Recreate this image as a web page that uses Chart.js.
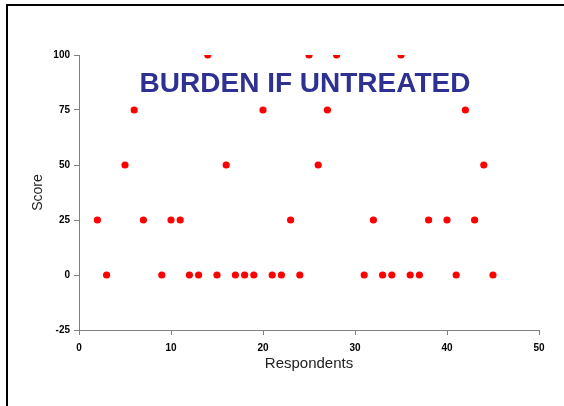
<!DOCTYPE html>
<html>
<head>
<meta charset="utf-8">
<script src="https://cdn.jsdelivr.net/npm/chart.js@4"></script>
<style>
  html, body { margin: 0; padding: 0; background: #fff; }
  #wrap { width: 564px; height: 406px; position: relative; }
</style>
</head>
<body>
<div id="wrap"><canvas id="c" width="564" height="406"></canvas></div>
<script>
const chartTitle = "BURDEN IF UNTREATED";
const xAxisLabel = "Respondents";
const yAxisLabel = "Score";
const respondents = [2, 3, 5, 6, 7, 9, 10, 11, 12, 13, 14, 15, 16, 17, 18, 19, 20, 21, 22, 23, 24, 25, 26, 27, 28, 31, 32, 33, 34, 35, 36, 37, 38, 40, 41, 42, 43, 44, 45];
const scores =      [25, 0, 50, 75, 25, 0, 25, 25, 0, 0, 100, 0, 50, 0, 0, 0, 75, 0, 0, 25, 0, 100, 50, 75, 100, 0, 25, 0, 0, 100, 0, 0, 25, 25, 0, 75, 25, 50, 0];
const xTicks = [0, 10, 20, 30, 40, 50];
const yTicks = [-25, 0, 25, 50, 75, 100];

const points = respondents.map((r, i) => ({ x: r, y: scores[i] }));

const framePlugin = {
  id: 'frame',
  beforeDraw(chart) {
    const ctx = chart.ctx;
    ctx.save();
    ctx.fillStyle = '#fff';
    ctx.fillRect(0, 0, chart.width, chart.height);
    ctx.strokeStyle = '#000';
    ctx.lineWidth = 2;
    ctx.beginPath();
    ctx.moveTo(7, chart.height);
    ctx.lineTo(7, 5);
    ctx.lineTo(chart.width, 5);
    ctx.stroke();
    ctx.restore();
  }
};

const titlePlugin = {
  id: 'innerTitle',
  afterDatasetsDraw(chart) {
    const ctx = chart.ctx;
    ctx.save();
    ctx.font = 'bold 28px "Liberation Sans", Arial, sans-serif';
    ctx.fillStyle = '#2e3192';
    ctx.textAlign = 'center';
    ctx.textBaseline = 'middle';
    ctx.fillText(chartTitle, 305, 84);
    ctx.restore();
  }
};

new Chart(document.getElementById('c'), {
  type: 'scatter',
  data: {
    datasets: [{
      data: points,
      backgroundColor: '#ff0000',
      borderColor: '#ff0000',
      borderWidth: 0,
      pointRadius: 3.6,
      pointHoverRadius: 3.6
    }]
  },
  options: {
    responsive: false,
    animation: false,
    events: [],
    layout: { padding: { left: 0, top: 55, right: 25, bottom: 0 } },
    plugins: { legend: { display: false }, tooltip: { enabled: false }, title: { display: false } },
    scales: {
      x: {
        type: 'linear',
        min: 0, max: 50,
        afterFit(scale) { scale.height = 76; },
        afterBuildTicks(scale) { scale.ticks = xTicks.map(v => ({ value: v })); },
        grid: { drawOnChartArea: false, drawTicks: true, tickLength: 5, color: '#808080', tickColor: '#808080' },
        border: { color: '#808080', width: 1 },
        ticks: { color: '#000', padding: 7, maxRotation: 0, font: { family: '"Liberation Sans", Arial, sans-serif', size: 10, weight: 'bold' } },
        title: { display: true, text: xAxisLabel, color: '#222', padding: { top: 0, bottom: 33 }, font: { family: '"Liberation Sans", Arial, sans-serif', size: 15 } }
      },
      y: {
        type: 'linear',
        min: -25, max: 100,
        afterFit(scale) { scale.width = 79; },
        afterBuildTicks(scale) { scale.ticks = yTicks.map(v => ({ value: v })); },
        grid: { drawOnChartArea: false, drawTicks: true, tickLength: 5, color: '#808080', tickColor: '#808080' },
        border: { color: '#808080', width: 1 },
        ticks: { color: '#000', padding: 4, font: { family: '"Liberation Sans", Arial, sans-serif', size: 10, weight: 'bold' } },
        title: { display: true, text: yAxisLabel, color: '#222', padding: { top: 30, bottom: 0 }, font: { family: '"Liberation Sans", Arial, sans-serif', size: 14 } }
      }
    }
  },
  plugins: [framePlugin, titlePlugin]
});
</script>
</body>
</html>
